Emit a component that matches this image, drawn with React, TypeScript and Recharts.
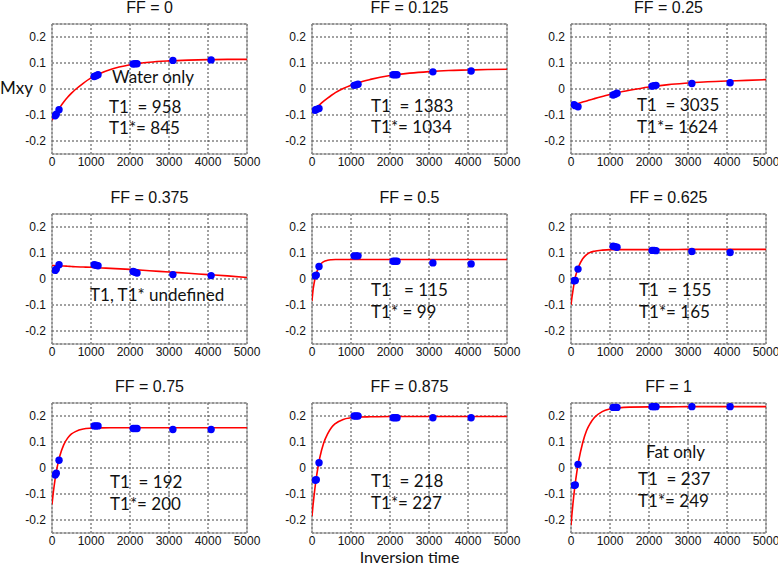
import React from 'react';
import { ComposedChart, Line, Scatter, XAxis, YAxis, CartesianGrid, ReferenceArea } from 'recharts';

// fat fractions shown in the panel titles
const FF_LABELS = ['0', '0.125', '0.25', '0.375', '0.5', '0.625', '0.75', '0.875', '1'];

// measured inversion times (ms) of the blue points
const DOT_TIMES = [80, 110, 180, 1080, 1130, 1180, 2080, 2130, 2180, 3100, 4080];

const DOTS_FF0 = [-0.103, -0.097, -0.08, 0.048, 0.051, 0.055, 0.096, 0.097, 0.097, 0.11, 0.112];
const DOTS_FF0125 = [-0.082, -0.079, -0.075, 0.014, 0.016, 0.018, 0.055, 0.055, 0.055, 0.066, 0.069];
const DOTS_FF025 = [-0.06, -0.064, -0.068, -0.023, -0.02, -0.016, 0.011, 0.013, 0.014, 0.021, 0.024];
const DOTS_FF0375 = [0.033, 0.038, 0.055, 0.055, 0.053, 0.051, 0.029, 0.026, 0.023, 0.017, 0.013];
const DOTS_FF05 = [0.012, 0.015, 0.048, 0.089, 0.089, 0.089, 0.068, 0.068, 0.068, 0.062, 0.058];
const DOTS_FF0625 = [-0.007, -0.006, 0.038, 0.126, 0.124, 0.122, 0.11, 0.11, 0.109, 0.106, 0.102];
const DOTS_FF075 = [-0.027, -0.02, 0.03, 0.162, 0.162, 0.162, 0.152, 0.152, 0.152, 0.148, 0.148];
const DOTS_FF0875 = [-0.047, -0.045, 0.02, 0.2, 0.2, 0.2, 0.193, 0.193, 0.193, 0.193, 0.193];
const DOTS_FF1 = [-0.067, -0.065, 0.014, 0.233, 0.233, 0.233, 0.236, 0.236, 0.236, 0.236, 0.236];

// sample times of the red fitted curves
const CURVE_TIMES = [0, 25, 50, 75, 100, 150, 200, 300, 400, 500, 600, 800, 1000, 1200, 1500, 2000, 2500, 3000, 3500, 4000, 4500, 5000];

const CURVE_FF0 = [-0.12, -0.113, -0.107, -0.1, -0.094, -0.082, -0.071, -0.05, -0.032, -0.016, -0.002, 0.022, 0.043, 0.058, 0.075, 0.093, 0.103, 0.108, 0.111, 0.113, 0.114, 0.114];
const CURVE_FF0125 = [-0.09, -0.086, -0.082, -0.078, -0.074, -0.067, -0.06, -0.047, -0.035, -0.024, -0.014, 0.002, 0.014, 0.025, 0.037, 0.052, 0.061, 0.067, 0.071, 0.073, 0.075, 0.076];
const CURVE_FF025 = [-0.065, -0.064, -0.062, -0.061, -0.06, -0.058, -0.055, -0.05, -0.046, -0.041, -0.037, -0.029, -0.021, -0.014, -0.005, 0.008, 0.017, 0.023, 0.028, 0.031, 0.033, 0.036];
const CURVE_FF0375 = [0.052, 0.052, 0.052, 0.051, 0.051, 0.051, 0.05, 0.05, 0.049, 0.048, 0.047, 0.046, 0.045, 0.043, 0.041, 0.037, 0.032, 0.027, 0.022, 0.017, 0.012, 0.006];
const CURVE_FF05 = [-0.085, -0.045, -0.02, 0.0, 0.016, 0.037, 0.053, 0.067, 0.072, 0.074, 0.075, 0.075, 0.075, 0.075, 0.075, 0.075, 0.075, 0.075, 0.075, 0.075, 0.075, 0.075];
const CURVE_FF0625 = [-0.1, -0.07, -0.045, -0.021, 0.0, 0.028, 0.049, 0.078, 0.094, 0.103, 0.107, 0.111, 0.113, 0.113, 0.113, 0.113, 0.113, 0.114, 0.114, 0.114, 0.114, 0.114];
const CURVE_FF075 = [-0.14, -0.105, -0.075, -0.048, -0.024, 0.016, 0.046, 0.089, 0.115, 0.131, 0.14, 0.15, 0.153, 0.154, 0.155, 0.155, 0.155, 0.155, 0.155, 0.155, 0.155, 0.155];
const CURVE_FF0875 = [-0.185, -0.145, -0.11, -0.078, -0.049, 0.0, 0.04, 0.096, 0.131, 0.156, 0.171, 0.187, 0.193, 0.196, 0.197, 0.198, 0.198, 0.198, 0.198, 0.198, 0.198, 0.198];
const CURVE_FF1 = [-0.22, -0.177, -0.137, -0.102, -0.07, -0.015, 0.03, 0.097, 0.144, 0.173, 0.194, 0.217, 0.227, 0.231, 0.234, 0.235, 0.235, 0.236, 0.236, 0.236, 0.236, 0.236];

// annotation lines per panel
const NOTES = [
  ['Water only', 'T1  = 958', 'T1*= 845'],
  ['T1  = 1383', 'T1*= 1034'],
  ['T1  = 3035', 'T1*= 1624'],
  ['T1, T1* undefined'],
  ['T1   = 115', 'T1* = 99'],
  ['T1  = 155', 'T1*= 165'],
  ['T1  = 192', 'T1*= 200'],
  ['T1  = 218', 'T1*= 227'],
  ['Fat only', 'T1  = 237', 'T1*= 249'],
];

const X_TICKS = [0, 1000, 2000, 3000, 4000, 5000];
const Y_TICKS = [-0.2, -0.1, 0, 0.1, 0.2];

const DOT_SETS = [DOTS_FF0, DOTS_FF0125, DOTS_FF025, DOTS_FF0375, DOTS_FF05, DOTS_FF0625, DOTS_FF075, DOTS_FF0875, DOTS_FF1];
const CURVE_SETS = [CURVE_FF0, CURVE_FF0125, CURVE_FF025, CURVE_FF0375, CURVE_FF05, CURVE_FF0625, CURVE_FF075, CURVE_FF0875, CURVE_FF1];

// layout of the 3x3 grid (plot area corners)
const COL_LEFT = [52, 312, 571];
const ROW_TOP = [24, 214, 403];
const PLOT_W = 195;
const PLOT_H = 130;

// annotation line positions relative to the plot's top-left corner: [dx, center dy] per line
const NOTE_POS = [
  [[60, 53], [57, 83], [57, 104]],
  [[59, 82], [59, 103]],
  [[66, 81], [66, 103]],
  [[38, 81]],
  [[59, 76], [59, 98]],
  [[68, 76], [68, 98]],
  [[58, 79], [58, 101]],
  [[59, 78], [59, 100]],
  [[75, 49], [67, 76], [67, 98]],
];

const TICK_STYLE = { fontFamily: '"Liberation Sans", Arial, sans-serif', fontSize: 12, fill: '#111' };
const NOTE_FONT = 'Lato, "Open Sans", sans-serif';

const Dot = (p: any) => <circle cx={p.cx} cy={p.cy} r={3.7} fill="#0000ff" />;

const Panel = ({ idx }: { idx: number }) => {
  const col = idx % 3;
  const row = Math.floor(idx / 3);
  const left = COL_LEFT[col];
  const top = ROW_TOP[row];
  const curve = CURVE_TIMES.map((t, i) => ({ t, m: CURVE_SETS[idx][i] }));
  const dots = DOT_TIMES.map((t, i) => ({ t, m: DOT_SETS[idx][i] }));
  return (
    <>
      <div
        style={{
          position: 'absolute',
          left: left,
          width: PLOT_W,
          top: top - 25,
          textAlign: 'center',
          fontFamily: '"Liberation Sans", Arial, sans-serif',
          fontSize: 16,
          color: '#111',
        }}
      >
        {`FF = ${FF_LABELS[idx]}`}
      </div>
      <div style={{ position: 'absolute', left: left - 45, top: top - 5 }}>
        <ComposedChart width={PLOT_W + 60} height={PLOT_H + 25} margin={{ top: 5, right: 15, left: 5, bottom: 0 }}>
          <CartesianGrid stroke="#444" strokeDasharray="2 2" />
          <XAxis
            type="number"
            dataKey="t"
            domain={[0, 5000]}
            ticks={X_TICKS}
            allowDataOverflow
            tickLine={false}
            tickSize={1}
            axisLine={false}
            height={20}
            tick={TICK_STYLE}
            interval={0}
          />
          <YAxis
            type="number"
            domain={[-0.25, 0.25]}
            ticks={Y_TICKS}
            allowDataOverflow
            tickLine={false}
            tickSize={4}
            axisLine={false}
            width={40}
            tick={TICK_STYLE}
            interval={0}
          />
          <ReferenceArea x1={0} x2={5000} y1={-0.25} y2={0.25} fill="none" stroke="#888" strokeWidth={1} />
          <Line
            data={curve}
            dataKey="m"
            type="monotone"
            stroke="#ff0000"
            strokeWidth={1.6}
            dot={false}
            isAnimationActive={false}
          />
          <Scatter data={dots} dataKey="m" shape={Dot} isAnimationActive={false} />
        </ComposedChart>
      </div>
      {NOTES[idx].map((txt, i) => (
        <div
          key={i}
          style={{
            position: 'absolute',
            left: left + NOTE_POS[idx][i][0],
            top: top + NOTE_POS[idx][i][1] - 10,
            fontFamily: NOTE_FONT,
            fontSize: 17,
            whiteSpace: 'pre',
            color: '#111',
            lineHeight: '20px',
          }}
        >
          {txt}
        </div>
      ))}
    </>
  );
};

export default function App() {
  return (
    <div style={{ position: 'absolute', left: 0, top: 0, width: 778, height: 566, background: '#fff', overflow: 'hidden' }}>
      {FF_LABELS.map((_, i) => (
        <Panel key={i} idx={i} />
      ))}
      <div style={{ position: 'absolute', left: 0, top: 78, fontFamily: NOTE_FONT, fontSize: 17, color: '#111', lineHeight: '20px' }}>
        Mxy
      </div>
      <div
        style={{
          position: 'absolute',
          left: 312,
          width: PLOT_W,
          top: 547,
          textAlign: 'center',
          fontFamily: NOTE_FONT,
          fontSize: 16,
          color: '#111',
          lineHeight: '19px',
        }}
      >
        Inversion time
      </div>
    </div>
  );
}
